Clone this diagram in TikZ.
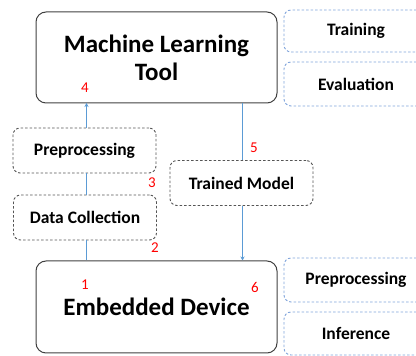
\documentclass[tikz,border=0pt]{standalone}
\usepackage{fontspec}
\setmainfont{Carlito}
\usetikzlibrary{arrows.meta}
\definecolor{edge}{HTML}{404040}
\definecolor{dgray}{HTML}{555555}
\definecolor{lblue}{HTML}{7FA3DB}
\definecolor{arr}{HTML}{5B9BD5}
\tikzset{
  big/.style={draw=edge, line width=1pt, rounded corners=10pt, minimum width=241pt, align=center, font=\bfseries\fontsize{25}{28}\selectfont},
  step box/.style={draw=dgray, line width=0.9pt, dashed, dash pattern=on 2.5pt off 2pt, rounded corners=7pt, minimum width=143pt, minimum height=45pt, font=\bfseries\fontsize{17.5}{20}\selectfont},
  side/.style={draw=lblue, line width=0.9pt, dash pattern=on 2.5pt off 2pt, rounded corners=7pt, minimum width=144pt, font=\bfseries\fontsize{17.5}{20}\selectfont},
  num/.style={text=red, font=\fontsize{15}{17}\selectfont},
  conn/.style={draw=arr, line width=1pt},
}
\begin{document}
\begin{tikzpicture}[x=1pt,y=1pt]
\useasboundingbox (0,0) rectangle (416,356);
\clip (0,0) rectangle (416,356);
\node[big, minimum height=91pt] (ml) at (156.5,298.5) {Machine Learning\\Tool};
\node[big, minimum height=92pt] (ed) at (156.5,49) {Embedded Device};
\node[step box] (pre) at (84.5,205.5) {Preprocessing};
\node[step box] (dc) at (85,138.5) {Data Collection};
\node[step box] (tm) at (241.5,173) {Trained Model};
\node[side, minimum height=42pt] (tr) at (356,325) {Training};
\node[side, minimum height=44pt] (ev) at (356,272) {Evaluation};
\node[side, minimum height=44pt] (pr) at (356,76) {Preprocessing};
\node[side, minimum height=43pt] (inf) at (356,22.5) {Inference};
\coordinate (mla) at (86.5,253);
\coordinate (mlb) at (242.5,253);
\draw[conn] (ed.north -| mla) -- (dc.south -| mla);
\draw[conn] (dc.north -| mla) -- (pre.south -| mla);
\draw[conn, -{Stealth[length=4pt,width=4pt]}] (pre.north -| mla) -- (mla);
\draw[conn] (mlb) -- (tm.north -| mlb);
\draw[conn, -{Stealth[length=4pt,width=4pt]}] (tm.south -| mlb) -- (ed.north -| mlb);
\node[num] (n4) at (85,268) {4};
\node[num] (n5) at (254,208) {5};
\node[num] (n3) at (152,173) {3};
\node[num] (n2) at (155,108) {2};
\node[num] (n1) at (85,71) {1};
\node[num] (n6) at (255,69) {6};
\end{tikzpicture}
\end{document}
